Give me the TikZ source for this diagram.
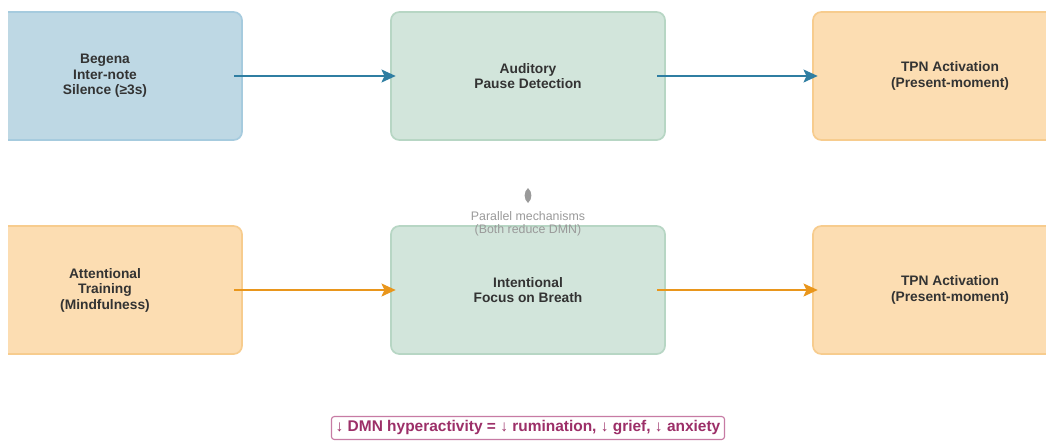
\documentclass[tikz,border=0pt]{standalone}
\usepackage{fontspec}
\setmainfont{Liberation Sans}
\usepackage{tikz}
\usetikzlibrary{arrows.meta,positioning}
\definecolor{silfill}{HTML}{BED8E4}
\definecolor{silline}{HTML}{A6CBDE}
\definecolor{pausefill}{HTML}{D2E5DB}
\definecolor{pauseline}{HTML}{B7D6C4}
\definecolor{tpnfill}{HTML}{FCDDB2}
\definecolor{tpnline}{HTML}{F7CC8E}
\definecolor{bluearrow}{HTML}{2F7EA2}
\definecolor{orangearrow}{HTML}{E9961C}
\definecolor{notegray}{HTML}{9A9A9A}
\definecolor{dmnpurple}{HTML}{9C2F68}
\definecolor{dmnline}{HTML}{C77BA4}
\tikzset{
    stage/.style={rectangle, rounded corners=6pt, line width=1.2pt, minimum width=6.85cm, minimum height=3.2cm, align=center, font=\fontsize{9.8}{11}\selectfont\bfseries, text=black!80},
    silence/.style={stage, fill=silfill, draw=silline},
    pause/.style={stage, fill=pausefill, draw=pauseline},
    tpn/.style={stage, fill=tpnfill, draw=tpnline},
    flow/.style={draw, line width=2pt, shorten <=-6pt, shorten >=-4pt, -{Stealth[length=10pt, width=9pt, inset=2pt]}},
    note/.style={align=center, text=notegray, font=\fontsize{8.8}{9.3}\selectfont},
    summary/.style={draw=dmnline, fill=white, rounded corners=2pt, line width=0.8pt, text=dmnpurple, font=\fontsize{11}{12}\selectfont\bfseries, inner sep=3pt}
}
\begin{document}
\begin{tikzpicture}[x=0.025cm, y=-0.025cm]
    \fill[white] (0,0) rectangle (1046,441);
    \clip (8,0) rectangle (1046,441);

    % Nodes
    \node[silence] (begena) at (105,76) {Begena\\Inter-note\\Silence (≥3s)};
    \node[pause] (auditory) at (528,76) {Auditory\\Pause Detection};
    \node[tpn] (tpnA) at (950,76) {TPN Activation\\(Present-moment)};

    \node[tpn] (mindful) at (105,290) {Attentional\\Training\\(Mindfulness)};
    \node[pause] (breath) at (528,290) {Intentional\\Focus on Breath};
    \node[tpn] (tpnB) at (950,290) {TPN Activation\\(Present-moment)};

    \node[note] (parallel) at (528,223.5) {Parallel mechanisms\\(Both reduce DMN)};
    \coordinate (parTop) at (528,188);
    \coordinate (parBot) at (528,203);
    \fill[notegray] (parTop) to[bend left=50] (parBot) to[bend left=50] (parTop);

    \node[summary] (dmn) at (528,428) {↓ DMN hyperactivity = ↓ rumination, ↓ grief, ↓ anxiety};

    % edges
    \draw[flow, bluearrow] (begena) -- (auditory);
    \draw[flow, bluearrow] (auditory) -- (tpnA);
    \draw[flow, orangearrow] (mindful) -- (breath);
    \draw[flow, orangearrow] (breath) -- (tpnB);
\end{tikzpicture}
\end{document}
